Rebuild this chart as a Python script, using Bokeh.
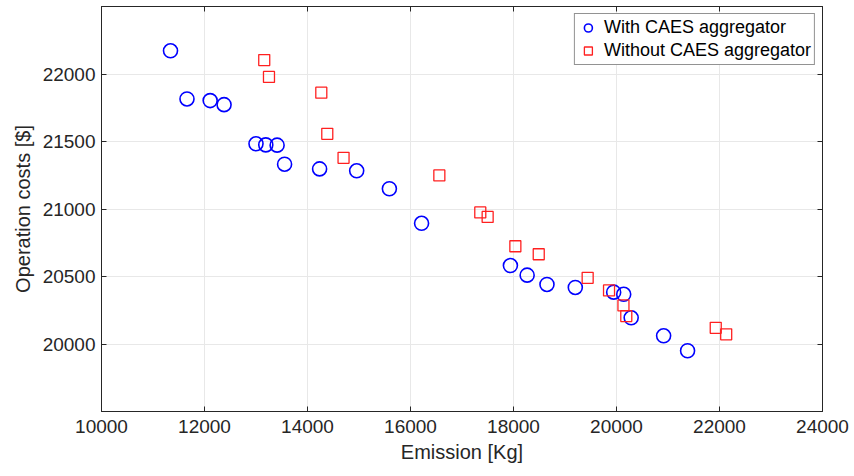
from bokeh.plotting import figure
from bokeh.models import ColumnDataSource, Range1d, FixedTicker, LinearAxis, Legend, LegendItem
from bokeh.embed import file_html
from bokeh.resources import INLINE

# With CAES aggregator
with_x = [11340, 11660, 12110, 12380, 13000, 13190, 13410, 13555, 14235, 14955,
          15590, 16215, 17940, 18265, 18650, 19200, 19945, 20140, 20285, 20915, 21380]
with_y = [22172, 21815, 21803, 21773, 21483, 21475, 21473, 21332, 21297, 21283,
          21150, 20894, 20581, 20510, 20441, 20419, 20384, 20368, 20194, 20061, 19950]

# Without CAES aggregator
without_x = [13160, 13252, 14268, 14384, 14700, 16560, 17355, 17498, 18036, 18490,
             19440, 19855, 20135, 20190, 21927, 22130]
without_y = [22103, 21978, 21862, 21557, 21379, 21249, 20975, 20941, 20724, 20665,
             20490, 20397, 20286, 20207, 20120, 20072]

x_ticks = [10000, 12000, 14000, 16000, 18000, 20000, 22000, 24000]
y_ticks = [20000, 20500, 21000, 21500, 22000]

FONT = "Liberation Sans"
TXT = "#262626"

p = figure(frame_width=721, frame_height=405, width=854, height=476,
           output_backend="svg", toolbar_location=None,
           x_range=Range1d(10000, 24000), y_range=Range1d(19500, 22500),
           min_border_left=101, min_border_right=32, min_border_top=6, min_border_bottom=65)
p.background_fill_color = "white"
p.border_fill_color = "white"
p.outline_line_color = TXT
p.outline_line_width = 1

xb = p.below[0]
yl = p.left[0]
xb.axis_label = "Emission [Kg]"
yl.axis_label = "Operation costs [$]"

# mirrored axes (ticks only) on top and right, like a boxed plot
top_ax = LinearAxis(ticker=FixedTicker(ticks=x_ticks))
right_ax = LinearAxis(ticker=FixedTicker(ticks=y_ticks))
for ax in (top_ax, right_ax):
    ax.major_label_text_font_size = "0px"
    ax.major_label_standoff = 0
    ax.major_label_text_alpha = 0
p.add_layout(top_ax, "above")
p.add_layout(right_ax, "right")

for ax in (xb, yl, top_ax, right_ax):
    ax.major_tick_in = 5
    ax.major_tick_out = 0
    ax.minor_tick_in = 0
    ax.minor_tick_out = 0
    ax.axis_line_color = TXT
    ax.major_tick_line_color = TXT
    ax.axis_label_text_font = FONT
    ax.axis_label_text_font_style = "normal"
    ax.axis_label_text_color = TXT
    ax.major_label_text_font = FONT
    ax.major_label_text_color = TXT

for ax in (xb, yl):
    ax.major_label_text_font_size = "19px"
    ax.axis_label_text_font_size = "20px"

xb.ticker = FixedTicker(ticks=x_ticks)
yl.ticker = FixedTicker(ticks=y_ticks)
xb.major_label_standoff = 8
yl.major_label_standoff = 6
xb.axis_label_standoff = 5
yl.axis_label_standoff = 6

p.xgrid.ticker = FixedTicker(ticks=x_ticks)
p.ygrid.ticker = FixedTicker(ticks=y_ticks)
p.grid.grid_line_color = "#e8e8e8"
p.grid.grid_line_width = 1

src_w = ColumnDataSource(dict(x=with_x, y=with_y))
src_wo = ColumnDataSource(dict(x=without_x, y=without_y))

r1 = p.scatter("x", "y", source=src_w, marker="circle", size=14,
               fill_color=None, line_color="#0000ff", line_width=1.6)
r2 = p.scatter("x", "y", source=src_wo, marker="square", size=11,
               fill_color=None, line_color="#ff2020", line_width=1.3)

legend = Legend(items=[LegendItem(label="With CAES aggregator", renderers=[r1]),
                       LegendItem(label="Without CAES aggregator", renderers=[r2])],
                location="top_right")
legend.margin = 7
legend.padding = 3
legend.spacing = 2
legend.label_text_font = FONT
legend.label_text_font_size = "18px"
legend.label_text_color = "#000000"
legend.label_height = 21
legend.glyph_width = 20
legend.glyph_height = 21
legend.label_standoff = 6
legend.border_line_color = TXT
legend.border_line_width = 1
legend.background_fill_alpha = 1
p.add_layout(legend)

open("out.html", "w").write(file_html(p, INLINE))
